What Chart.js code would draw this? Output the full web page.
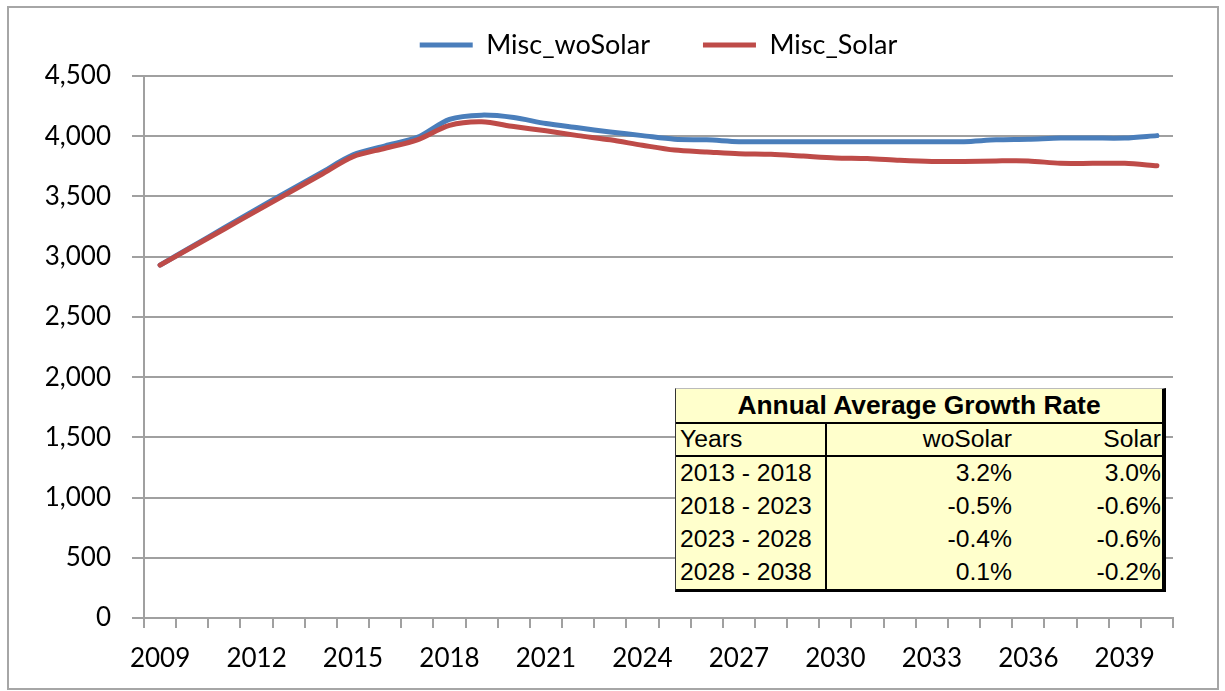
<!DOCTYPE html>
<html>
<head>
<meta charset="utf-8">
<script src="https://cdn.jsdelivr.net/npm/chart.js@4.4.1/dist/chart.umd.min.js"></script>
<style>
  html, body { margin: 0; padding: 0; background: #fff; }
  #wrap { position: relative; width: 1225px; height: 691px; overflow: hidden; }
  #c { position: absolute; left: 0; top: 0; }
  #frame { position: absolute; left: 7px; top: 6px; width: 1208px; height: 680px; border: 2px solid #a6a6a6; pointer-events: none; }
  #growthBox { position: absolute; left: 675px; top: 388px; width: 491px; height: 204px; box-sizing: border-box;
    background: #FFFFCC; border-left: 1px solid #333; border-top: 1px solid #bbb; border-right: 4px solid #000; border-bottom: 3px solid #000;
    font-family: "Liberation Sans", Arial, sans-serif; color: #000; }
  #growth { border-collapse: collapse; width: 486px; table-layout: fixed; }
  #growth td { padding: 0; line-height: 1; vertical-align: middle; white-space: nowrap; font-size: 24.7px; overflow: visible; }
  #growth tr.t td { height: 33px; font-weight: bold; font-size: 26.4px; text-align: center; border-bottom: 2px solid #000; }
  #growth tr.h td { height: 31px; border-bottom: 2px solid #000; }
  #growth tr.d td { height: 33px; }
  #growth td.c1 { border-right: 2px solid #000; padding-left: 4px; text-align: left; }
  #growth td.c2 { text-align: right; }
  #growth td.c3 { text-align: right; padding-right: 1px; }
</style>
</head>
<body>
<div id="wrap">
  <canvas id="c" width="1225" height="691"></canvas>
  <div id="frame"></div>
  <div id="growthBox"><table id="growth"><colgroup><col style="width:150px"><col style="width:186px"><col style="width:150px"></colgroup></table></div>
</div>
<script>
// ---- data ----
const years = ['2009','2010','2011','2012','2013','2014','2015','2016','2017','2018','2019','2020','2021','2022','2023','2024',
               '2025','2026','2027','2028','2029','2030','2031','2032','2033','2034','2035','2036','2037','2038','2039','2040'];
const miscWoSolar = [2930,3085,3240,3395,3545,3695,3845,3920,3990,4140,4175,4155,4105,4070,4035,4005,
                     3975,3970,3955,3955,3955,3955,3955,3955,3955,3955,3970,3975,3985,3985,3985,4005];
const miscSolar   = [2930,3080,3230,3380,3530,3680,3830,3900,3970,4090,4120,4080,4045,4005,3970,3925,
                     3885,3870,3855,3850,3835,3820,3815,3800,3790,3790,3795,3795,3775,3775,3775,3755];
const seriesNames = ['Misc_woSolar', 'Misc_Solar'];
const xTickLabels = ['2009','2012','2015','2018','2021','2024','2027','2030','2033','2036','2039'];
const yTickMin = 0, yTickMax = 4500, yTickStep = 500;

const growthTitle = 'Annual Average Growth Rate';
const growthHeaders = ['Years', 'woSolar', 'Solar'];
const growthPeriods = ['2013 - 2018', '2018 - 2023', '2023 - 2028', '2028 - 2038'];
const growthWoSolar = ['3.2%', '-0.5%', '-0.4%', '0.1%'];
const growthSolar   = ['3.0%', '-0.6%', '-0.6%', '-0.2%'];

// ---- growth table ----
(function buildTable() {
  const t = document.getElementById('growth');
  const tr0 = document.createElement('tr'); tr0.className = 't';
  const td0 = document.createElement('td'); td0.colSpan = 3; td0.textContent = growthTitle; tr0.appendChild(td0); t.appendChild(tr0);
  const addRow = (cls, cells) => {
    const tr = document.createElement('tr'); tr.className = cls;
    cells.forEach((txt, i) => { const td = document.createElement('td'); td.className = 'c' + (i + 1); td.textContent = txt; tr.appendChild(td); });
    t.appendChild(tr);
  };
  addRow('h', growthHeaders);
  growthPeriods.forEach((p, i) => addRow('d', [p, growthWoSolar[i], growthSolar[i]]));
})();

// ---- chart ----
Chart.defaults.font.family = 'Lato, "Liberation Sans", sans-serif';
Chart.defaults.color = '#000';
const gridGray = '#a0a0a0';

new Chart(document.getElementById('c'), {
  type: 'line',
  data: {
    labels: years,
    datasets: [
      { label: seriesNames[0], data: miscWoSolar, borderColor: '#4A7EBB', backgroundColor: '#4A7EBB',
        borderWidth: 5, pointRadius: 0, tension: 0.3, fill: false, borderCapStyle: 'round', borderJoinStyle: 'round', order: 1 },
      { label: seriesNames[1], data: miscSolar, borderColor: '#BE4B48', backgroundColor: '#BE4B48',
        borderWidth: 5, pointRadius: 0, tension: 0.3, fill: false, borderCapStyle: 'round', borderJoinStyle: 'round', order: 0 }
    ]
  },
  options: {
    responsive: false,
    animation: false,
    devicePixelRatio: 1,
    layout: { padding: { top: -21.5, left: 0, right: 52, bottom: 0 } },
    plugins: {
      legend: {
        display: true, position: 'top', weight: 3000, fullSize: false,
        labels: {
          usePointStyle: true, pointStyle: 'line', pointStyleWidth: 53, padding: 53,
          font: { size: 27 }, color: '#000',
          sort: (a, b) => a.datasetIndex - b.datasetIndex
        }
      },
      title: { display: true, text: '', weight: 500, padding: 0, font: { size: 7.5, lineHeight: 1 } },
      tooltip: { enabled: false }
    },
    scales: {
      x: {
        offset: true,
        grid: { display: true, offset: true, drawOnChartArea: false, drawTicks: true, tickLength: 10, color: gridGray, lineWidth: 2 },
        border: { display: true, color: gridGray, width: 2 },
        ticks: {
          autoSkip: false, maxRotation: 0, minRotation: 0, padding: 15, font: { size: 26 },
          callback: function (v) { const l = this.getLabelForValue(v); return xTickLabels.includes(l) ? l : ''; }
        },
        afterFit: s => { s.height = 73; }
      },
      y: {
        min: yTickMin, max: yTickMax,
        grid: { color: gridGray, lineWidth: 2, tickLength: 12, drawTicks: true },
        border: { display: true, color: gridGray, width: 2 },
        ticks: { stepSize: yTickStep, padding: 21, font: { size: 26 }, callback: v => v.toLocaleString('en-US') },
        afterFit: s => { s.width = 144; }
      }
    }
  }
});
</script>
</body>
</html>
